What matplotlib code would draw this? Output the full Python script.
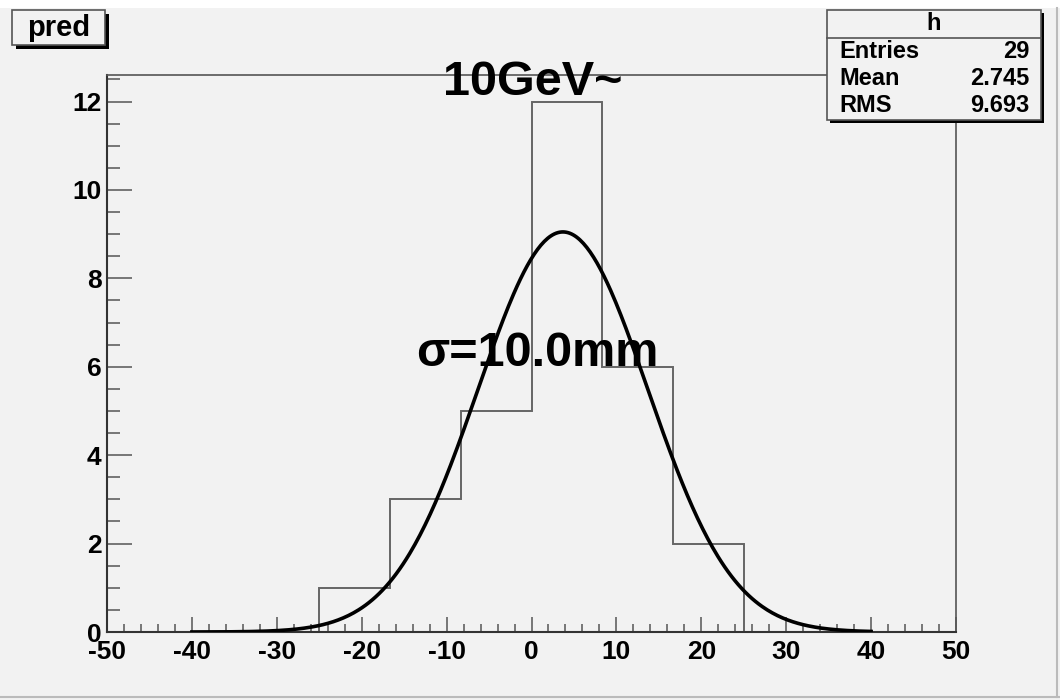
import numpy as np
import matplotlib
matplotlib.use("Agg")
import matplotlib.pyplot as plt
from matplotlib.patches import Rectangle
from matplotlib.ticker import MultipleLocator

# histogram "h": 12 bins over [-50, 50]
bin_counts = [0, 0, 0, 1, 3, 5, 12, 6, 2, 0, 0, 0]
x_range = (-50, 50)

# gaussian fit drawn over [-40, 40]
fit_amp = 9.05
fit_mean = 3.7
fit_sigma = 10.0
fit_range = (-40, 40)

stats_title = "h"
stats_names = ["Entries", "Mean", "RMS"]
stats_values = ["29", "2.745", "9.693"]

W, H = 1060, 700
BG = "#f2f2f2"
FONT = "Liberation Sans"


def px(x, y):
    # pixel coords (top-left origin) -> figure fraction
    return x / W, 1 - y / H


def box(fig, x0, y0, x1, y1, shadow=4):
    sx, sy = px(x0 + shadow, y1 + shadow)
    fig.add_artist(Rectangle((sx, sy), (x1 - x0) / W, (y1 - y0) / H,
                             transform=fig.transFigure, facecolor="black",
                             edgecolor="none", zorder=10))
    bx, by = px(x0, y1)
    fig.add_artist(Rectangle((bx, by), (x1 - x0) / W, (y1 - y0) / H,
                             transform=fig.transFigure, facecolor=BG,
                             edgecolor="#555555", linewidth=1.2, zorder=11))


plt.rcParams["font.family"] = [FONT, "DejaVu Sans"]
plt.rcParams["font.weight"] = "bold"
plt.rcParams["axes.unicode_minus"] = False

fig = plt.figure(figsize=(W / 100, H / 100), dpi=100, facecolor=BG)
ax = fig.add_axes([107 / W, 1 - 632 / H, (956 - 107) / W, (632 - 75) / H])
ax.set_facecolor(BG)

edges = np.linspace(x_range[0], x_range[1], len(bin_counts) + 1)
ax.stairs(bin_counts, edges, color="#666666", linewidth=1.4, baseline=None)

xs = np.linspace(fit_range[0], fit_range[1], 400)
ax.plot(xs, fit_amp * np.exp(-0.5 * ((xs - fit_mean) / fit_sigma) ** 2),
        color="black", linewidth=2.6, zorder=5)

ax.set_xlim(*x_range)
ax.set_ylim(0, 12.6)
ax.xaxis.set_major_locator(MultipleLocator(10))
ax.xaxis.set_minor_locator(MultipleLocator(2))
ax.yaxis.set_major_locator(MultipleLocator(2))
ax.yaxis.set_minor_locator(MultipleLocator(0.5))
ax.tick_params(axis="x", which="major", direction="in", length=11, width=1.1,
               color="#555555", labelsize=19, pad=6)
ax.tick_params(axis="x", which="minor", direction="in", length=6, width=1.1,
               color="#555555")
ax.tick_params(axis="y", which="major", direction="in", length=18, width=1.1,
               color="#555555", labelsize=19, pad=4)
ax.tick_params(axis="y", which="minor", direction="in", length=9, width=1.1,
               color="#555555")
for lab in ax.get_xticklabels() + ax.get_yticklabels():
    lab.set_fontweight("bold")
for side in ["left", "bottom"]:
    ax.spines[side].set_color("#333333")
    ax.spines[side].set_linewidth(1.5)
for side in ["top", "right"]:
    ax.spines[side].set_color("#555555")
    ax.spines[side].set_linewidth(1.2)

ax.text(0.2, 12.44, "10GeV~", ha="center", va="center", fontsize=35,
        fontweight="bold", zorder=6)
ax.text(0.65, 6.3, "σ=10.0mm", ha="center", va="center", fontsize=35,
        fontweight="bold", zorder=6)

# title box
box(fig, 12, 10, 105, 45)
fig.text(*px(59, 28), "pred", ha="center", va="center", fontsize=21,
         fontweight="bold", zorder=12)

# stats box
box(fig, 827, 10, 1041, 120, shadow=3)
lx0, ly = px(827, 38)
lx1, _ = px(1041, 38)
fig.add_artist(plt.Line2D([lx0, lx1], [ly, ly], transform=fig.transFigure,
                          color="#555555", linewidth=1.2, zorder=12))
fig.text(*px(934, 24), stats_title, ha="center", va="center", fontsize=17,
         fontweight="bold", zorder=12)
for i, (name, val) in enumerate(zip(stats_names, stats_values)):
    yy = 52 + i * 26.5
    fig.text(*px(839, yy), name, ha="left", va="center", fontsize=17,
             fontweight="bold", zorder=12)
    fig.text(*px(1029, yy), val, ha="right", va="center", fontsize=17,
             fontweight="bold", zorder=12)

# canvas bevel
fig.add_artist(Rectangle(px(0, 8), 1, 8 / H, transform=fig.transFigure,
                         facecolor="white", edgecolor="none", zorder=0))
fig.add_artist(plt.Line2D([0, 1], [1 - 697 / H] * 2, transform=fig.transFigure,
                          color="#bbbbbb", linewidth=1.5))
fig.add_artist(plt.Line2D([1 - 3 / W] * 2, [1 - 697 / H, 1 - 8 / H],
                          transform=fig.transFigure, color="#bbbbbb",
                          linewidth=1.5))

fig.savefig("out.png", dpi=100, facecolor=BG)
plt.close(fig)
